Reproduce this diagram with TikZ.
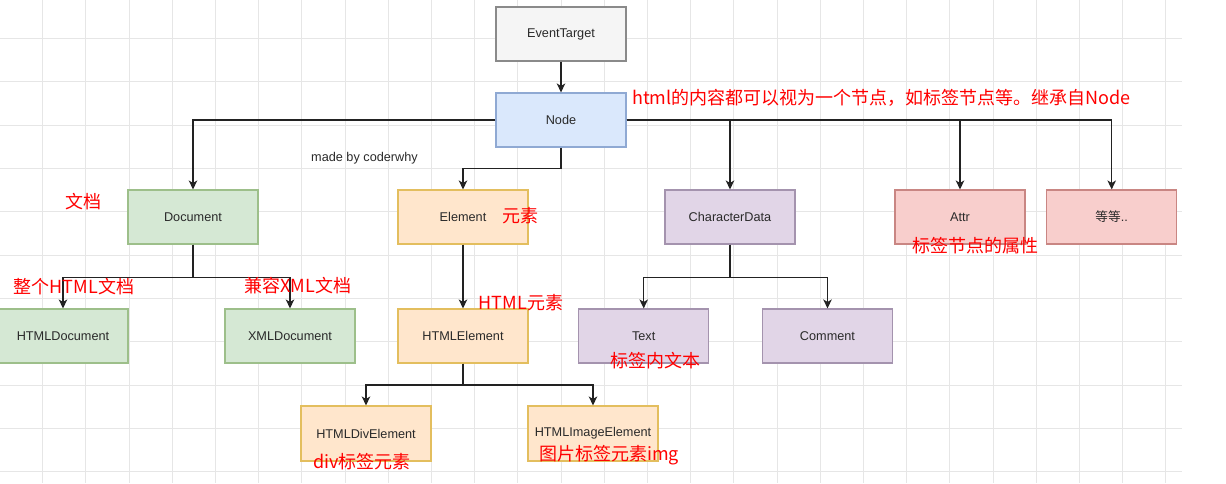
\documentclass[tikz,border=0pt]{standalone}
\usepackage{fontspec}
\setmainfont{Liberation Sans}
\newfontfamily\cjk{Noto Sans CJK SC}
\usetikzlibrary{arrows.meta}
\definecolor{gridc}{HTML}{E6E6E6}
\definecolor{linec}{HTML}{222222}
\definecolor{txtc}{HTML}{2A2A2A}
\definecolor{grayF}{HTML}{F5F5F5}\definecolor{grayD}{HTML}{8A8A8A}
\definecolor{blueF}{HTML}{DAE8FC}\definecolor{blueD}{HTML}{8FA9D3}
\definecolor{greenF}{HTML}{D5E8D4}\definecolor{greenD}{HTML}{9DBF8A}
\definecolor{orangeF}{HTML}{FFE6CC}\definecolor{orangeD}{HTML}{E3BE5E}
\definecolor{purpleF}{HTML}{E1D5E7}\definecolor{purpleD}{HTML}{A493AE}
\definecolor{redF}{HTML}{F8CECC}\definecolor{redD}{HTML}{C98683}
\definecolor{labred}{HTML}{FF0000}
\begin{document}
\begin{tikzpicture}[x=1pt,y=-1pt,
  gridline/.style={draw=gridc, line width=0.9pt},
  box/.style={draw, line width=1.1pt, minimum width=130pt, minimum height=54pt, inner sep=0pt,
    font=\fontsize{12.7}{15}\selectfont, text=txtc},
  graybox/.style={box, fill=grayF, draw=grayD},
  bluebox/.style={box, fill=blueF, draw=blueD},
  greenbox/.style={box, fill=greenF, draw=greenD},
  orangebox/.style={box, fill=orangeF, draw=orangeD},
  purplebox/.style={box, fill=purpleF, draw=purpleD},
  redbox/.style={box, fill=redF, draw=redD},
  arr/.style={draw=linec, line width=1.3pt, -{Stealth[length=9pt,width=8.5pt,inset=2.5pt]}},
  lab/.style={text=labred, font=\cjk\fontsize{18}{20}\selectfont, inner sep=0pt},
  note/.style={text=txtc, font=\fontsize{12.7}{15}\selectfont, inner sep=0pt}]
\useasboundingbox (0,0) rectangle (1226,483);
\fill[white] (0,0) rectangle (1226,483);
% grid
\foreach \i in {1,...,27} \draw[gridline] ({-0.6+43.2*\i},0) -- ({-0.6+43.2*\i},483);
\foreach \j in {1,...,11} \draw[gridline] (0,{-5+43.33*\j}) -- (1182,{-5+43.33*\j});

% boxes
\node[graybox] (et) at (561,34) {EventTarget};
\node[bluebox] (nd) at (561,120) {Node};
\node[greenbox] (doc) at (193,217) {Document};
\node[orangebox] (el) at (463,217) {Element};
\node[purplebox] (cd) at (730,217) {CharacterData};
\node[redbox] (attr) at (960,217) {Attr};
\node[redbox] (etc) at (1111.7,217) {{\cjk 等等}..};
\node[greenbox] (hdoc) at (63,336) {HTMLDocument};
\node[greenbox] (xdoc) at (290,336) {XMLDocument};
\node[orangebox] (hel) at (463,336) {HTMLElement};
\node[purplebox] (txt) at (643.7,336) {Text};
\node[purplebox] (cmt) at (827.5,336) {Comment};
\node[orangebox, minimum height=55pt] (div) at (366,433.5) {HTMLDivElement};
\node[orangebox, minimum height=55pt] (img) at (593,433.5) {HTMLImageElement};

% connectors
\draw[arr] (et.south) -- (nd.north);
\draw[arr] (nd.west) -| (doc.north);
\draw[arr] (nd.south) -- ++(0,21) -| (el.north);
\draw[arr] (nd.east) -| (cd.north);
\draw[arr] (nd.east) -| (attr.north);
\draw[arr] (nd.east) -| (etc.north);
\draw[arr] (doc.south) -- ++(0,32.7) -| (hdoc.north);
\draw[arr] (doc.south) -- ++(0,32.7) -| (xdoc.north);
\draw[arr] (el.south) -- (hel.north);
\draw[arr] (hel.south) -- ++(0,21.3) -| (div.north);
\draw[arr] (hel.south) -- ++(0,21.3) -| (img.north);
\draw[arr] (cd.south) -- ++(0,32.7) -| (txt.north);
\draw[arr] (cd.south) -- ++(0,32.7) -| (cmt.north);

% texts
\node[note] (made) at (364.5,158) {made by coderwhy};
\node[lab, anchor=west] (l1) at (632,98) {html的内容都可以视为一个节点，如标签节点等。继承自Node};
\node[lab] (l2) at (83,202) {文档};
\node[lab] (l3) at (74,287) {整个HTML文档};
\node[lab] (l4) at (298,286) {兼容XML文档};
\node[lab] (l5) at (520,216) {元素};
\node[lab] (l6) at (521,303) {HTML元素};
\node[lab] (l7) at (655,361) {标签内文本};
\node[lab] (l8) at (362,462) {div标签元素};
\node[lab] (l9) at (609,455.5) {图片标签元素img};
\node[lab] (l10) at (975.5,246) {标签节点的属性};
\end{tikzpicture}
\end{document}
